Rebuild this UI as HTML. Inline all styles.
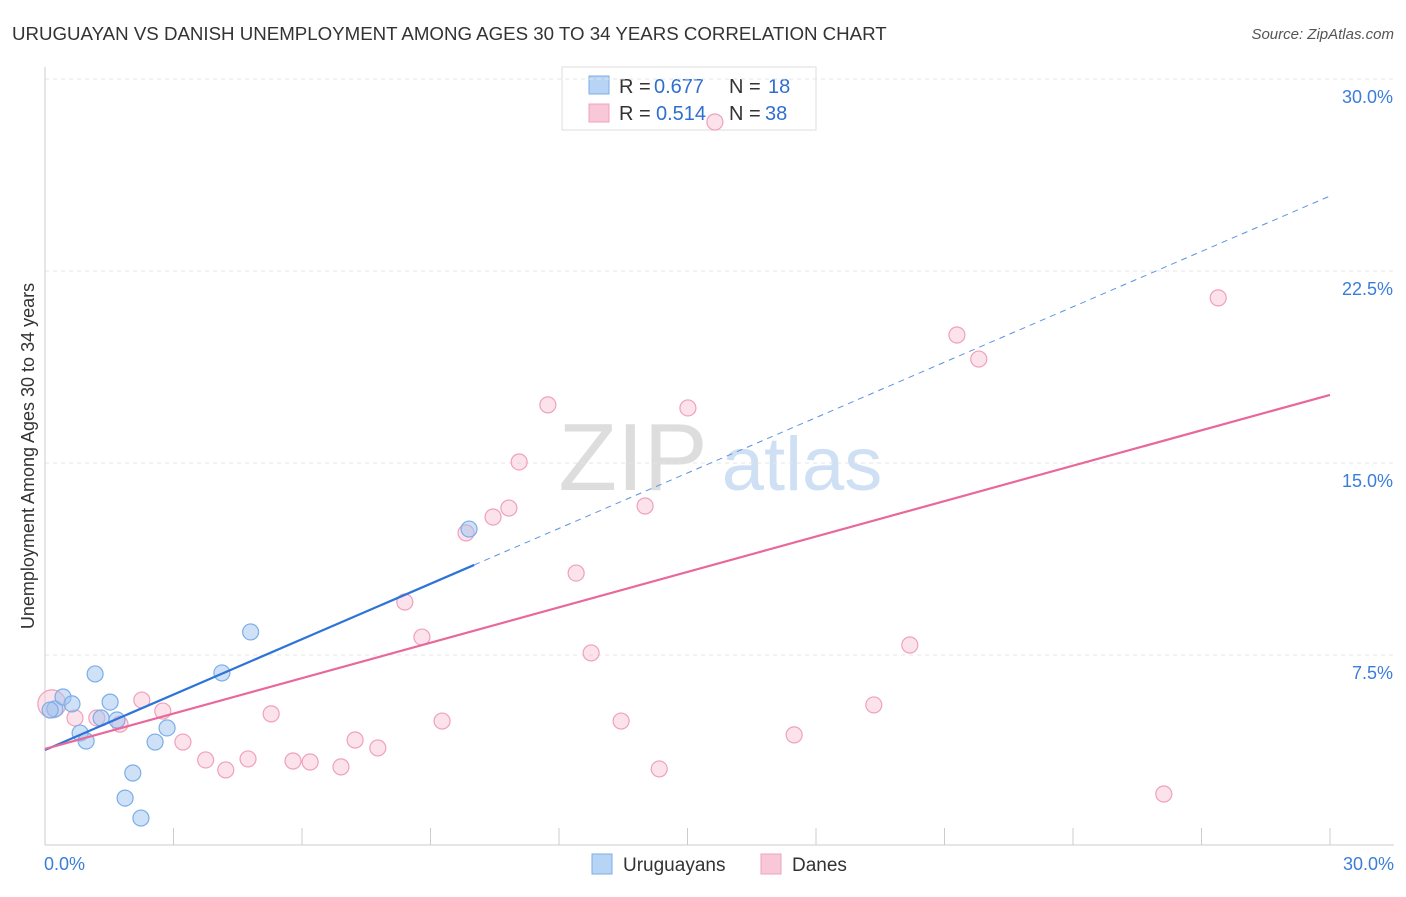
<!DOCTYPE html>
<html><head><meta charset="utf-8"><style>
body{margin:0;background:#fff;font-family:"Liberation Sans",sans-serif;}
svg text{font-family:"Liberation Sans",sans-serif;}
</style></head><body>
<svg id="chart" width="1406" height="892" xmlns="http://www.w3.org/2000/svg">
<text x="12" y="40" font-size="18.7" fill="#333">URUGUAYAN VS DANISH UNEMPLOYMENT AMONG AGES 30 TO 34 YEARS CORRELATION CHART</text>
<text x="1394" y="39" font-size="15" fill="#555" text-anchor="end" font-style="italic">Source: ZipAtlas.com</text>
<text x="633" y="490" font-size="96" fill="#ddd" font-family="Liberation Serif" text-anchor="middle">ZIP</text>
<text x="802" y="490" font-size="76" fill="#cfe0f4" text-anchor="middle">atlas</text>
<text transform="translate(34,456) rotate(-90)" font-size="18" fill="#333" text-anchor="middle">Unemployment Among Ages 30 to 34 years</text>
<g>
<rect x="562" y="67" width="254" height="63" fill="#fff" stroke="#ddd"/>
<rect x="589" y="76" width="20" height="18" fill="#b8d4f4" stroke="#7aaee8"/>
<rect x="589" y="104" width="20" height="18" fill="#f9c8d8" stroke="#f0a0bc"/>
<text x="619" y="93" font-size="20" fill="#333">R =</text><text x="654" y="93" font-size="20" fill="#2e6fd0">0.677</text>
<text x="729" y="93" font-size="20" fill="#333">N =</text><text x="768" y="93" font-size="20" fill="#2e6fd0">18</text>
<text x="619" y="120" font-size="20" fill="#333">R =</text><text x="656" y="120" font-size="20" fill="#2e6fd0">0.514</text>
<text x="729" y="120" font-size="20" fill="#333">N =</text><text x="765" y="120" font-size="20" fill="#2e6fd0">38</text>
</g>
<g id="grid"></g><g id="marks"></g>
<g>
<rect x="592" y="854" width="20" height="20" fill="#b8d4f4" stroke="#7aaee8"/>
<text x="623" y="871" font-size="19" fill="#333">Uruguayans</text>
<rect x="761" y="854" width="20" height="20" fill="#f9c8d8" stroke="#f0a0bc"/>
<text x="792" y="871" font-size="19" fill="#333">Danes</text>
</g>
<text x="44" y="870" font-size="18" fill="#3b7dd8">0.0%</text>
<text x="1394" y="870" font-size="18" fill="#3b7dd8" text-anchor="end">30.0%</text>
</svg>
<script>
const yTicks=[7.5,15,22.5,30];
const yTickLabels=["7.5%","15.0%","22.5%","30.0%"];
const uruX=[0.23,0.42,0.63,1.17,1.52,1.68,1.31,0.82,0.96,2.05,1.87,2.24,2.57,2.85,4.13,4.80,9.90,0.12];
const uruY=[5.39,5.86,5.59,6.76,5.66,4.96,5.04,4.45,4.14,2.89,1.91,1.13,4.10,4.65,6.80,8.40,12.42,5.35];
const daneX=[0.16,0.70,1.21,1.75,2.26,2.75,3.22,3.75,4.22,4.74,5.28,5.79,6.19,6.91,7.24,7.77,8.40,8.80,9.27,9.83,10.46,10.83,11.07,11.74,12.40,12.75,13.45,14.01,14.34,15.01,15.64,17.49,19.35,20.19,21.29,21.80,26.12,27.39];
const daneY=[5.59,5.04,5.04,4.80,5.74,5.31,4.10,3.40,3.01,3.44,5.20,3.36,3.32,3.13,4.18,3.87,9.57,8.20,4.92,12.27,12.89,13.24,15.04,17.27,10.70,7.58,4.92,13.32,3.05,17.15,28.32,4.38,5.55,7.89,20.0,19.06,2.07,21.45];
const uruTrend=[3.79,25.43]; const uruSolidEnd=10.02;
const daneTrend=[3.83,17.66];
const NS="http://www.w3.org/2000/svg";
const sx=v=>45+v*1285/30, sy=v=>847-v*25.6;
function mk(t,a,p){const e=document.createElementNS(NS,t);for(const k in a)e.setAttribute(k,a[k]);p.appendChild(e);return e;}
const g=document.getElementById('grid'),m=document.getElementById('marks');
yTicks.forEach((t,i)=>{
 const l=mk('line',{x1:45,x2:1394,y1:sy(t),y2:sy(t),stroke:'#e4e4e4','stroke-dasharray':'4,4'},g);
 
 
 const tx=mk('text',{x:1393,y:sy(t)+24,'font-size':18,fill:'#3b7dd8','text-anchor':'end'},g);
 tx.textContent=yTickLabels[i];
 
 
});
const ax=mk('line',{x1:45,x2:45,y1:67,y2:845,stroke:'#ccc'},g);


const bx=mk('line',{x1:45,x2:1394,y1:845,y2:845,stroke:'#ccc'},g);


for(let i=1;i<=10;i++){const t=mk('line',{x1:sx(i*3),x2:sx(i*3),y1:828,y2:845,stroke:'#ccc'},g);
 
 }
daneX.forEach((x,i)=>{const c=mk('circle',{cx:sx(x),cy:sy(daneY[i]),r:i===0?14:8,fill:'rgba(248,190,210,0.45)',stroke:'#f0a0bc','stroke-width':1.2},m);
 
 });
uruX.forEach((x,i)=>{const c=mk('circle',{cx:sx(x),cy:sy(uruY[i]),r:8,fill:'rgba(160,196,240,0.5)',stroke:'#7aaee8','stroke-width':1.2},m);
 
 });
const ul=x=>uruTrend[0]+(uruTrend[1]-uruTrend[0])*x/30;
const l1=mk('line',{x1:sx(0),y1:sy(ul(0)),x2:sx(uruSolidEnd),y2:sy(ul(uruSolidEnd)),stroke:'#2e74d8','stroke-width':2.2},m);


const l2=mk('line',{x1:sx(uruSolidEnd),y1:sy(ul(uruSolidEnd)),x2:sx(30),y2:sy(ul(30)),stroke:'#5b93e0','stroke-width':1,'stroke-dasharray':'6,5'},m);


const l3=mk('line',{x1:sx(0),y1:sy(daneTrend[0]),x2:sx(30),y2:sy(daneTrend[1]),stroke:'#e8689a','stroke-width':2.2},m);


</script>
</body></html>
